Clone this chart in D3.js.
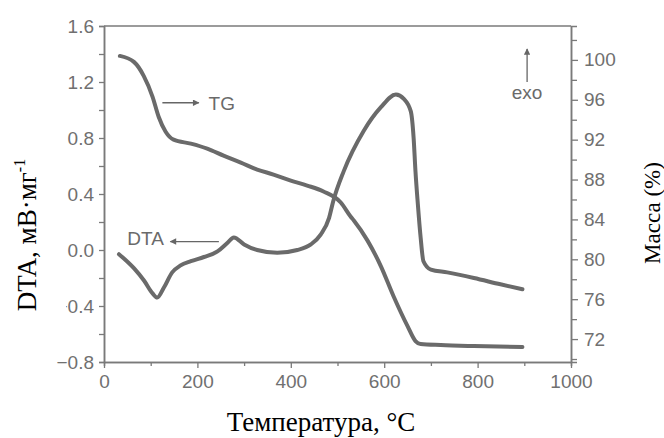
<!DOCTYPE html>
<html>
<head>
<meta charset="utf-8">
<script src="https://cdn.jsdelivr.net/npm/d3@7"></script>
<style>
  body { margin: 0; background: #fff; }
  svg { display: block; }
</style>
</head>
<body>
<script>
// TG curve (mass, right axis)
var tgTemp = [34, 64, 85, 104, 117, 132, 149, 186, 221, 256, 293, 328, 363, 400, 435, 470, 507, 528, 535, 564, 593, 620, 650, 667, 678, 721, 792, 896];
var tgMass = [100.4, 99.8, 98.4, 96.3, 94.3, 92.8, 92.0, 91.6, 91.1, 90.4, 89.7, 89.0, 88.5, 87.9, 87.4, 86.8, 85.7, 84.3, 83.9, 81.9, 79.3, 76.3, 73.3, 71.8, 71.5, 71.4, 71.3, 71.2];

// DTA curve (left axis)
var dtaTemp = [32, 64, 86, 104, 114, 128, 146, 164, 186, 214, 243, 264, 278, 300, 328, 371, 414, 443, 464, 482, 491, 513, 556, 593, 625, 642, 657, 663, 667, 672, 678, 684, 700, 735, 792, 849, 896];
var dtaSignal = [-0.03, -0.13, -0.22, -0.31, -0.34, -0.27, -0.16, -0.11, -0.08, -0.05, -0.01, 0.05, 0.09, 0.04, 0.0, -0.02, 0.0, 0.04, 0.11, 0.23, 0.35, 0.56, 0.85, 1.02, 1.11, 1.08, 0.99, 0.80, 0.56, 0.33, 0.09, -0.08, -0.14, -0.16, -0.2, -0.245, -0.28];

// ticks
var xTicks = [0, 200, 400, 600, 800, 1000];
var xMinor = [100, 300, 500, 700, 900];
var dtaTicks = [-0.8, -0.4, 0.0, 0.4, 0.8, 1.2, 1.6];
var dtaMinor = [-0.6, -0.2, 0.2, 0.6, 1.0, 1.4];
var massTicks = [72, 76, 80, 84, 88, 92, 96, 100];
var massMinor = [70, 74, 78, 82, 86, 90, 94, 98, 102];

function visualise(){

    // MARGIN
    var margin = {top: 26, right: 93, bottom: 76, left: 104},
        width = 664 - margin.left - margin.right,
        height = 438 - margin.top - margin.bottom;

    var axisColor = "#7a7a7a",
        lineColor = "#6a6a6a",
        tickFont = "19px 'Liberation Sans', Arial, sans-serif";

    // create canvas
    var svg = d3.select("body").append("svg")
              .attr("width", 664)
              .attr("height", 438);

    var g = svg.append("g")
              .attr("transform", "translate(" + margin.left + "," + margin.top + ")");

    // scales
    var x = d3.scaleLinear().domain([0, 1000]).range([0, width]);
    var y = d3.scaleLinear().domain([-0.8, 1.6]).range([height, 0]);
    var y2 = d3.scaleLinear().domain([69.7, 103.4]).range([height, 0]);

    // top border
    g.append("line")
      .attr("x1", 0).attr("x2", width)
      .attr("y1", 0).attr("y2", 0)
      .attr("stroke", axisColor)
      .attr("stroke-width", 1.5);

    function styleAxis(sel){
      sel.select(".domain").attr("stroke", axisColor).attr("stroke-width", 1.5);
      sel.selectAll(".tick line").attr("stroke", axisColor).attr("stroke-width", 1.3);
      sel.selectAll("text").style("font", tickFont).attr("fill", "#707070");
    }

    // minor ticks first, major on top
    g.append("g")
      .attr("transform", "translate(0," + height + ")")
      .call(d3.axisBottom(x).tickValues(xMinor).tickSize(4).tickFormat(""))
      .call(styleAxis);
    g.append("g")
      .attr("transform", "translate(0," + height + ")")
      .call(d3.axisBottom(x).tickValues(xTicks).tickSize(6).tickSizeOuter(0).tickPadding(7).tickFormat(d3.format("d")))
      .call(styleAxis);

    g.append("g")
      .call(d3.axisLeft(y).tickValues(dtaMinor).tickSize(5).tickFormat(""))
      .call(styleAxis);
    g.append("g")
      .call(d3.axisLeft(y).tickValues(dtaTicks).tickSize(5).tickSizeOuter(0).tickPadding(5).tickFormat(d3.format(".1f")))
      .call(styleAxis);

    g.append("g")
      .attr("transform", "translate(" + width + ",0)")
      .call(d3.axisRight(y2).tickValues(massMinor).tickSize(6).tickFormat(""))
      .call(styleAxis);
    g.append("g")
      .attr("transform", "translate(" + width + ",0)")
      .call(d3.axisRight(y2).tickValues(massTicks).tickSize(7).tickSizeOuter(0).tickPadding(6).tickFormat(d3.format("d")))
      .call(styleAxis);

    // curves
    var tgLine = d3.line()
      .x(function(d, i){ return x(tgTemp[i]); })
      .y(function(d, i){ return y2(tgMass[i]); })
      .curve(d3.curveMonotoneX);

    var dtaLine = d3.line()
      .x(function(d, i){ return x(dtaTemp[i]); })
      .y(function(d, i){ return y(dtaSignal[i]); })
      .curve(d3.curveMonotoneX);

    g.append("path")
      .datum(tgMass)
      .attr("d", tgLine)
      .attr("fill", "none")
      .attr("stroke", lineColor)
      .attr("stroke-width", 4)
      .attr("stroke-linecap", "round");

    g.append("path")
      .datum(dtaSignal)
      .attr("d", dtaLine)
      .attr("fill", "none")
      .attr("stroke", lineColor)
      .attr("stroke-width", 4)
      .attr("stroke-linecap", "round");

    // arrow marker
    svg.append("defs").append("marker")
      .attr("id", "arr")
      .attr("viewBox", "0 0 10 10")
      .attr("refX", 9).attr("refY", 5)
      .attr("markerWidth", 7).attr("markerHeight", 5)
      .attr("orient", "auto")
      .append("path")
      .attr("d", "M0,0 L10,5 L0,10 z")
      .attr("fill", "#666");

    var annFont = "19px 'Liberation Sans', Arial, sans-serif";

    // TG label
    g.append("line")
      .attr("x1", x(125)).attr("x2", x(203))
      .attr("y1", y2(95.7)).attr("y2", y2(95.7))
      .attr("stroke", "#666").attr("stroke-width", 1.3)
      .attr("marker-end", "url(#arr)");
    g.append("text")
      .attr("x", x(224)).attr("y", y2(95.7) + 7)
      .style("font", annFont).attr("fill", "#6a6a6a")
      .text("TG");

    // DTA label
    g.append("line")
      .attr("x1", x(246)).attr("x2", x(142))
      .attr("y1", y(0.06)).attr("y2", y(0.06))
      .attr("stroke", "#666").attr("stroke-width", 1.3)
      .attr("marker-end", "url(#arr)");
    g.append("text")
      .attr("x", x(50)).attr("y", y(0.06) + 3)
      .style("font", annFont).attr("fill", "#6a6a6a")
      .text("DTA");

    // exo
    g.append("line")
      .attr("x1", x(906)).attr("x2", x(906))
      .attr("y1", 56).attr("y2", 23)
      .attr("stroke", "#666").attr("stroke-width", 1.3)
      .attr("marker-end", "url(#arr)");
    g.append("text")
      .attr("x", x(906)).attr("y", 73)
      .attr("text-anchor", "middle")
      .style("font", annFont).attr("fill", "#6a6a6a")
      .text("exo");

    // white patch behind the left title
    svg.append("rect")
      .attr("x", 0).attr("y", 140)
      .attr("width", 66).attr("height", 180)
      .attr("fill", "#fff");

    var titleFont = "27px 'Liberation Serif', 'Times New Roman', serif";

    // axis titles
    var yt = svg.append("text")
      .attr("transform", "translate(36,235) rotate(-90)")
      .attr("text-anchor", "middle")
      .style("font", titleFont)
      .attr("fill", "#000");
    yt.append("tspan").text("DTA, мВ·мг");
    yt.append("tspan").attr("dy", -11).style("font-size", "16px").text("-1");

    svg.append("text")
      .attr("transform", "translate(660,213) rotate(-90)")
      .attr("text-anchor", "middle")
      .style("font", "23px 'Liberation Serif', 'Times New Roman', serif")
      .attr("fill", "#000")
      .text("Масса (%)");

    svg.append("text")
      .attr("x", 321).attr("y", 431)
      .attr("text-anchor", "middle")
      .style("font", titleFont)
      .attr("fill", "#000")
      .text("Температура, °С");
}

visualise();
</script>
</body>
</html>
